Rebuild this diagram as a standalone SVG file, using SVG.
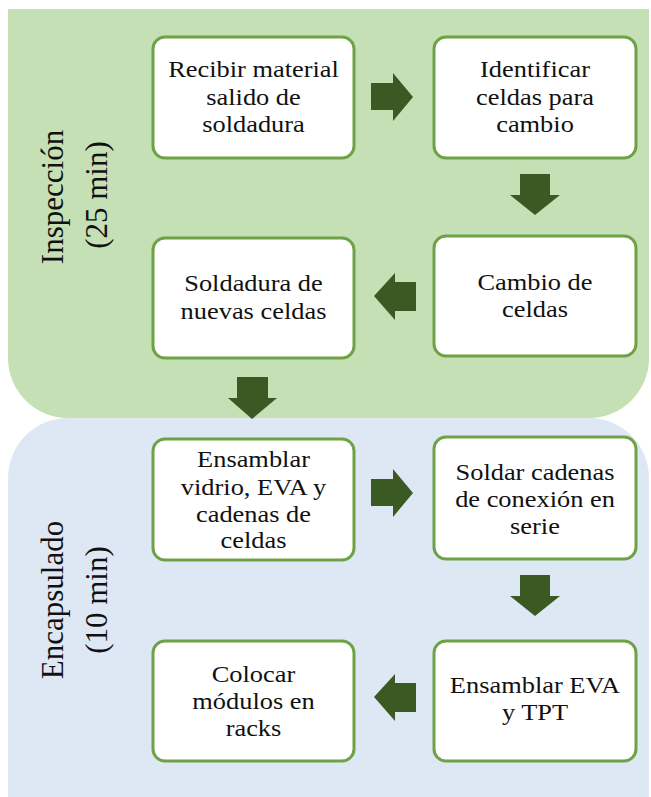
<svg xmlns="http://www.w3.org/2000/svg" width="651" height="797" viewBox="0 0 651 797">
<style>
.box{fill:#fff;stroke:#6fa246;stroke-width:3}
.v{font-family:'Liberation Serif',serif;font-size:31px;fill:#111;text-anchor:middle}
.t{font-family:'Liberation Serif',serif;font-size:31px;fill:#111;text-anchor:middle}
.arr{fill:#3b5a23}
</style>
<g id="sections">
<path id="inspeccion-bg" d="M8 9 H649 V358 A60 60 0 0 1 589 418 H68 A60 60 0 0 1 8 358 Z" fill="#c5e0b4"/>
<path id="encapsulado-bg" d="M8 478 A60 60 0 0 1 68 418 H589 A60 60 0 0 1 649 478 V797 H8 Z" fill="#dee8f4"/>
</g>
<g id="label-inspeccion">
<text class="v" transform="translate(63,197) rotate(-90)">Inspección</text>
<text class="v" transform="translate(107,195) rotate(-90)">(25 min)</text>
</g>
<g id="label-encapsulado">
<text class="v" transform="translate(63,600) rotate(-90)">Encapsulado</text>
<text class="v" transform="translate(107,600) rotate(-90)">(10 min)</text>
</g>
<g id="n1"><rect class="box" x="153" y="37" width="201" height="121" rx="12"/>
<text class="t" transform="translate(253.5,77) scale(0.8516,0.7742)">Recibir material</text>
<text class="t" transform="translate(253.5,105) scale(0.8516,0.7742)">salido de</text>
<text class="t" transform="translate(253.5,132) scale(0.8516,0.7742)">soldadura</text></g>
<g id="n2"><rect class="box" x="434" y="37" width="202" height="121" rx="12"/>
<text class="t" transform="translate(535,77) scale(0.8516,0.7742)">Identificar</text>
<text class="t" transform="translate(535,105) scale(0.8516,0.7742)">celdas para</text>
<text class="t" transform="translate(535,132) scale(0.8516,0.7742)">cambio</text></g>
<g id="n3"><rect class="box" x="434" y="236" width="202" height="120" rx="12"/>
<text class="t" transform="translate(535,290) scale(0.8516,0.7742)">Cambio de</text>
<text class="t" transform="translate(535,317) scale(0.8516,0.7742)">celdas</text></g>
<g id="n4"><rect class="box" x="153" y="238" width="201" height="120" rx="12"/>
<text class="t" transform="translate(253.5,291) scale(0.8516,0.7742)">Soldadura de</text>
<text class="t" transform="translate(253.5,319) scale(0.8516,0.7742)">nuevas celdas</text></g>
<g id="n5"><rect class="box" x="153" y="439" width="201" height="121" rx="12"/>
<text class="t" transform="translate(253.5,467) scale(0.8516,0.7742)">Ensamblar</text>
<text class="t" transform="translate(253.5,495) scale(0.8516,0.7742)">vidrio, EVA y</text>
<text class="t" transform="translate(253.5,522) scale(0.8516,0.7742)">cadenas de</text>
<text class="t" transform="translate(253.5,548) scale(0.8516,0.7742)">celdas</text></g>
<g id="n6"><rect class="box" x="434" y="437" width="202" height="122" rx="12"/>
<text class="t" transform="translate(535,480) scale(0.8516,0.7742)">Soldar cadenas</text>
<text class="t" transform="translate(535,507) scale(0.8516,0.7742)">de conexión en</text>
<text class="t" transform="translate(535,534) scale(0.8516,0.7742)">serie</text></g>
<g id="n7"><rect class="box" x="434" y="641" width="202" height="120" rx="12"/>
<text class="t" transform="translate(535,693) scale(0.8516,0.7742)">Ensamblar EVA</text>
<text class="t" transform="translate(535,720) scale(0.8516,0.7742)">y TPT</text></g>
<g id="n8"><rect class="box" x="153" y="641" width="201" height="120" rx="12"/>
<text class="t" transform="translate(253.5,682) scale(0.8516,0.7742)">Colocar</text>
<text class="t" transform="translate(253.5,709) scale(0.8516,0.7742)">módulos en</text>
<text class="t" transform="translate(253.5,736) scale(0.8516,0.7742)">racks</text></g>
<g id="connectors">
<polygon class="arr" points="371,83 393,83 393,73 413,97 393,121 393,110 371,110"/>
<polygon class="arr" points="520,174 550,174 550,195 560,195 535,215 510,195 520,195"/>
<polygon class="arr" points="416,282 395,282 395,273 374,296 395,320 395,311 416,311"/>
<polygon class="arr" points="237,377 268,377 268,398 277,398 252,419 228,398 237,398"/>
<polygon class="arr" points="371,479 393,479 393,469 413,493 393,517 393,506 371,506"/>
<polygon class="arr" points="520,575 550,575 550,596 560,596 535,616 510,596 520,596"/>
<polygon class="arr" points="416,683 395,683 395,674 374,697 395,721 395,712 416,712"/>
</g>
</svg>
